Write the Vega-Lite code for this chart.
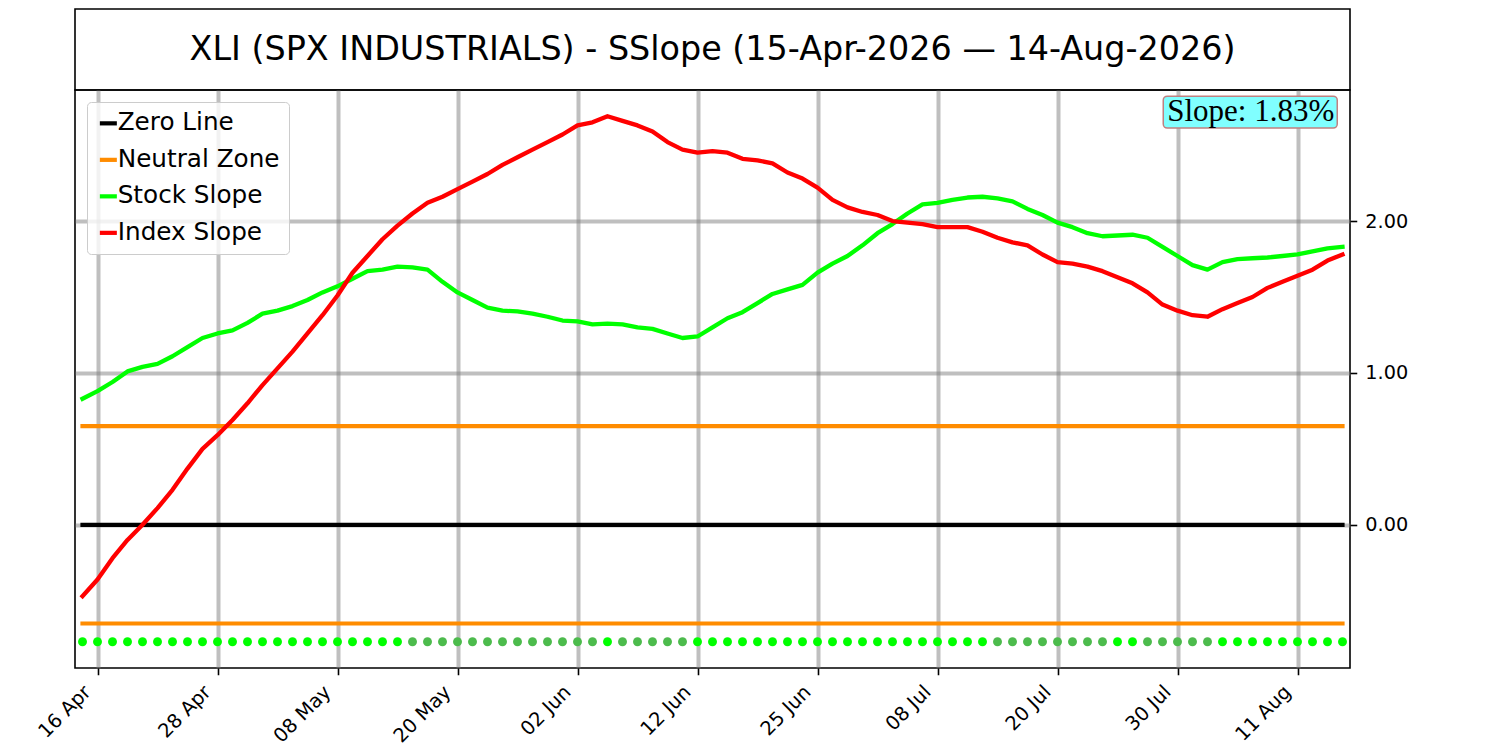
{
  "$schema": "https://vega.github.io/schema/vega-lite/v6.json",
  "description": "XLI sector slope vs index slope, trading-day axis.",
  "background": "white",
  "padding": {"left": 33, "top": 8, "right": 10, "bottom": 5},
  "spacing": 0,
  "bounds": "flush",
  "resolve": {
    "scale": {"color": "independent", "fill": "independent"},
    "legend": {"color": "independent", "fill": "independent"}
  },
  "config": {
    "view": {"stroke": "black", "strokeWidth": 1.6},
    "axis": {
      "labelFont": "DejaVu Sans",
      "labelFontSize": 19.3,
      "labelColor": "black",
      "tickColor": "black",
      "tickSize": 6.75,
      "tickWidth": 1.6,
      "domain": false,
      "grid": true,
      "gridColor": "#808080",
      "gridOpacity": 0.5,
      "gridWidth": 4
    }
  },
  "vconcat": [
    {
      "width": 1275,
      "height": 81,
      "data": {"values": [{"t": "XLI (SPX INDUSTRIALS) - SSlope (15-Apr-2026 — 14-Aug-2026)"}]},
      "mark": {"type": "text", "font": "DejaVu Sans", "fontSize": 33.4, "color": "black", "baseline": "middle"},
      "encoding": {
        "x": {"datum": 0.5, "type": "quantitative", "scale": {"domain": [0, 1]}, "axis": null},
        "y": {"datum": 0.5, "type": "quantitative", "scale": {"domain": [0, 1]}, "axis": null},
        "text": {"field": "t", "type": "nominal"}
      }
    },
    {
      "width": 1275,
      "height": 578,
      "data": {
        "values": [
          {"i": 0, "date": "15 Apr", "stock": 0.83, "index": -0.47, "trend": "up"},
          {"i": 1, "date": "16 Apr", "stock": 0.88, "index": -0.36, "trend": "up"},
          {"i": 2, "date": "17 Apr", "stock": 0.94, "index": -0.22, "trend": "up"},
          {"i": 3, "date": "20 Apr", "stock": 1.01, "index": -0.10, "trend": "up"},
          {"i": 4, "date": "21 Apr", "stock": 1.04, "index": 0.00, "trend": "up"},
          {"i": 5, "date": "22 Apr", "stock": 1.06, "index": 0.11, "trend": "up"},
          {"i": 6, "date": "23 Apr", "stock": 1.11, "index": 0.23, "trend": "up"},
          {"i": 7, "date": "24 Apr", "stock": 1.17, "index": 0.37, "trend": "up"},
          {"i": 8, "date": "27 Apr", "stock": 1.23, "index": 0.50, "trend": "up"},
          {"i": 9, "date": "28 Apr", "stock": 1.26, "index": 0.59, "trend": "up"},
          {"i": 10, "date": "29 Apr", "stock": 1.28, "index": 0.69, "trend": "up"},
          {"i": 11, "date": "30 Apr", "stock": 1.33, "index": 0.80, "trend": "up"},
          {"i": 12, "date": "01 May", "stock": 1.39, "index": 0.92, "trend": "up"},
          {"i": 13, "date": "04 May", "stock": 1.41, "index": 1.03, "trend": "up"},
          {"i": 14, "date": "05 May", "stock": 1.44, "index": 1.14, "trend": "up"},
          {"i": 15, "date": "06 May", "stock": 1.48, "index": 1.26, "trend": "up"},
          {"i": 16, "date": "07 May", "stock": 1.53, "index": 1.38, "trend": "up"},
          {"i": 17, "date": "08 May", "stock": 1.57, "index": 1.51, "trend": "up"},
          {"i": 18, "date": "11 May", "stock": 1.62, "index": 1.66, "trend": "up"},
          {"i": 19, "date": "12 May", "stock": 1.67, "index": 1.77, "trend": "up"},
          {"i": 20, "date": "13 May", "stock": 1.68, "index": 1.88, "trend": "up"},
          {"i": 21, "date": "14 May", "stock": 1.70, "index": 1.97, "trend": "up"},
          {"i": 22, "date": "15 May", "stock": 1.695, "index": 2.05, "trend": "down"},
          {"i": 23, "date": "18 May", "stock": 1.68, "index": 2.12, "trend": "down"},
          {"i": 24, "date": "19 May", "stock": 1.60, "index": 2.16, "trend": "down"},
          {"i": 25, "date": "20 May", "stock": 1.53, "index": 2.21, "trend": "down"},
          {"i": 26, "date": "21 May", "stock": 1.48, "index": 2.26, "trend": "down"},
          {"i": 27, "date": "22 May", "stock": 1.43, "index": 2.31, "trend": "down"},
          {"i": 28, "date": "26 May", "stock": 1.41, "index": 2.37, "trend": "down"},
          {"i": 29, "date": "27 May", "stock": 1.405, "index": 2.42, "trend": "down"},
          {"i": 30, "date": "28 May", "stock": 1.39, "index": 2.47, "trend": "down"},
          {"i": 31, "date": "29 May", "stock": 1.37, "index": 2.52, "trend": "down"},
          {"i": 32, "date": "01 Jun", "stock": 1.345, "index": 2.57, "trend": "down"},
          {"i": 33, "date": "02 Jun", "stock": 1.34, "index": 2.63, "trend": "down"},
          {"i": 34, "date": "03 Jun", "stock": 1.32, "index": 2.65, "trend": "down"},
          {"i": 35, "date": "04 Jun", "stock": 1.325, "index": 2.69, "trend": "up"},
          {"i": 36, "date": "05 Jun", "stock": 1.32, "index": 2.66, "trend": "down"},
          {"i": 37, "date": "08 Jun", "stock": 1.30, "index": 2.63, "trend": "down"},
          {"i": 38, "date": "09 Jun", "stock": 1.29, "index": 2.59, "trend": "down"},
          {"i": 39, "date": "10 Jun", "stock": 1.26, "index": 2.52, "trend": "down"},
          {"i": 40, "date": "11 Jun", "stock": 1.23, "index": 2.47, "trend": "down"},
          {"i": 41, "date": "12 Jun", "stock": 1.24, "index": 2.45, "trend": "up"},
          {"i": 42, "date": "15 Jun", "stock": 1.30, "index": 2.46, "trend": "up"},
          {"i": 43, "date": "16 Jun", "stock": 1.36, "index": 2.45, "trend": "up"},
          {"i": 44, "date": "17 Jun", "stock": 1.40, "index": 2.41, "trend": "up"},
          {"i": 45, "date": "18 Jun", "stock": 1.46, "index": 2.40, "trend": "up"},
          {"i": 46, "date": "22 Jun", "stock": 1.52, "index": 2.38, "trend": "up"},
          {"i": 47, "date": "23 Jun", "stock": 1.55, "index": 2.32, "trend": "up"},
          {"i": 48, "date": "24 Jun", "stock": 1.58, "index": 2.28, "trend": "up"},
          {"i": 49, "date": "25 Jun", "stock": 1.66, "index": 2.22, "trend": "up"},
          {"i": 50, "date": "26 Jun", "stock": 1.72, "index": 2.14, "trend": "up"},
          {"i": 51, "date": "29 Jun", "stock": 1.77, "index": 2.09, "trend": "up"},
          {"i": 52, "date": "30 Jun", "stock": 1.84, "index": 2.06, "trend": "up"},
          {"i": 53, "date": "01 Jul", "stock": 1.92, "index": 2.04, "trend": "up"},
          {"i": 54, "date": "02 Jul", "stock": 1.98, "index": 2.00, "trend": "up"},
          {"i": 55, "date": "06 Jul", "stock": 2.05, "index": 1.99, "trend": "up"},
          {"i": 56, "date": "07 Jul", "stock": 2.11, "index": 1.98, "trend": "up"},
          {"i": 57, "date": "08 Jul", "stock": 2.12, "index": 1.96, "trend": "up"},
          {"i": 58, "date": "09 Jul", "stock": 2.14, "index": 1.96, "trend": "up"},
          {"i": 59, "date": "10 Jul", "stock": 2.155, "index": 1.96, "trend": "up"},
          {"i": 60, "date": "13 Jul", "stock": 2.16, "index": 1.93, "trend": "up"},
          {"i": 61, "date": "14 Jul", "stock": 2.15, "index": 1.89, "trend": "down"},
          {"i": 62, "date": "15 Jul", "stock": 2.13, "index": 1.86, "trend": "down"},
          {"i": 63, "date": "16 Jul", "stock": 2.08, "index": 1.84, "trend": "down"},
          {"i": 64, "date": "17 Jul", "stock": 2.04, "index": 1.78, "trend": "down"},
          {"i": 65, "date": "20 Jul", "stock": 1.99, "index": 1.73, "trend": "down"},
          {"i": 66, "date": "21 Jul", "stock": 1.96, "index": 1.72, "trend": "down"},
          {"i": 67, "date": "22 Jul", "stock": 1.92, "index": 1.70, "trend": "down"},
          {"i": 68, "date": "23 Jul", "stock": 1.90, "index": 1.67, "trend": "down"},
          {"i": 69, "date": "24 Jul", "stock": 1.905, "index": 1.63, "trend": "up"},
          {"i": 70, "date": "27 Jul", "stock": 1.91, "index": 1.59, "trend": "up"},
          {"i": 71, "date": "28 Jul", "stock": 1.89, "index": 1.53, "trend": "down"},
          {"i": 72, "date": "29 Jul", "stock": 1.83, "index": 1.45, "trend": "down"},
          {"i": 73, "date": "30 Jul", "stock": 1.77, "index": 1.41, "trend": "down"},
          {"i": 74, "date": "31 Jul", "stock": 1.71, "index": 1.38, "trend": "down"},
          {"i": 75, "date": "03 Aug", "stock": 1.68, "index": 1.37, "trend": "down"},
          {"i": 76, "date": "04 Aug", "stock": 1.73, "index": 1.42, "trend": "up"},
          {"i": 77, "date": "05 Aug", "stock": 1.75, "index": 1.46, "trend": "up"},
          {"i": 78, "date": "06 Aug", "stock": 1.755, "index": 1.50, "trend": "up"},
          {"i": 79, "date": "07 Aug", "stock": 1.76, "index": 1.56, "trend": "up"},
          {"i": 80, "date": "10 Aug", "stock": 1.77, "index": 1.60, "trend": "up"},
          {"i": 81, "date": "11 Aug", "stock": 1.78, "index": 1.64, "trend": "up"},
          {"i": 82, "date": "12 Aug", "stock": 1.80, "index": 1.68, "trend": "up"},
          {"i": 83, "date": "13 Aug", "stock": 1.82, "index": 1.74, "trend": "up"},
          {"i": 84, "date": "14 Aug", "stock": 1.83, "index": 1.78, "trend": "up"}
        ]
      },
      "encoding": {
        "x": {
          "type": "quantitative",
          "title": null,
          "scale": {"domain": [-0.5, 84.5], "nice": false, "zero": false},
          "axis": {
            "values": [1, 9, 17, 25, 33, 41, 49, 57, 65, 73, 81],
            "labelExpr": "{'1': '16 Apr', '9': '28 Apr', '17': '08 May', '25': '20 May', '33': '02 Jun', '41': '12 Jun', '49': '25 Jun', '57': '08 Jul', '65': '20 Jul', '73': '30 Jul', '81': '11 Aug'}[datum.value]",
            "labelFontSize": 19.5,
            "labelAngle": -45,
            "labelAlign": "right",
            "labelBaseline": "alphabetic",
            "labelOffset": -6,
            "labelPadding": 18
          }
        },
        "y": {
          "type": "quantitative",
          "title": null,
          "scale": {"domain": [-0.943, 2.863], "nice": false, "zero": false},
          "axis": {"orient": "right", "values": [0, 1, 2], "format": ".2f", "labelPadding": 8}
        }
      },
      "layer": [
        {
          "data": {
            "values": [
              {"series": "zero", "level": 0},
              {"series": "neutral", "level": 0.65},
              {"series": "neutral", "level": -0.65}
            ]
          },
          "mark": {"type": "rule", "strokeWidth": 4.2, "strokeCap": "square"},
          "encoding": {
            "x": {"datum": 0},
            "x2": {"datum": 84},
            "y": {"field": "level"},
            "color": {
              "field": "series",
              "type": "nominal",
              "scale": {
                "domain": ["zero", "neutral", "stock", "index"],
                "range": ["black", "#ff8c00", "#00ff00", "#ff0000"]
              },
              "legend": {
                "title": null,
                "orient": "top-left",
                "offset": 12,
                "symbolType": "stroke",
                "symbolSize": 289,
                "symbolStrokeWidth": 4.2,
                "labelFont": "DejaVu Sans",
                "labelFontSize": 24.7,
                "labelColor": "black",
                "labelLimit": 400,
                "labelOffset": -3,
                "rowPadding": 10.5,
                "padding": 9,
                "fillColor": "rgba(255,255,255,0.8)",
                "strokeColor": "#cccccc",
                "cornerRadius": 4,
                "labelExpr": "{'zero': 'Zero Line', 'neutral': 'Neutral Zone', 'stock': 'Stock Slope', 'index': 'Index Slope'}[datum.label]"
              }
            }
          }
        },
        {
          "mark": {"type": "line", "strokeWidth": 4.3, "strokeCap": "square", "strokeJoin": "round"},
          "encoding": {
            "x": {"field": "i"},
            "y": {"field": "stock"},
            "color": {"datum": "stock"}
          }
        },
        {
          "mark": {"type": "line", "strokeWidth": 4.3, "strokeCap": "square", "strokeJoin": "round"},
          "encoding": {
            "x": {"field": "i"},
            "y": {"field": "index"},
            "color": {"datum": "index"}
          }
        },
        {
          "mark": {"type": "circle", "size": 80, "opacity": 1},
          "encoding": {
            "x": {"field": "i"},
            "y": {"datum": -0.77},
            "fill": {
              "field": "trend",
              "type": "nominal",
              "scale": {"domain": ["up", "down"], "range": ["#00ff00", "#4cbb4c"]},
              "legend": null
            }
          }
        },
        {
          "data": {"values": [{"label": "Slope: 1.83%"}]},
          "mark": {"type": "rect", "fill": "#80ffff", "stroke": "#c08080", "strokeWidth": 1.5, "cornerRadius": 4},
          "encoding": {
            "x": {"datum": 72.05},
            "x2": {"datum": 83.65},
            "y": {"datum": 2.822},
            "y2": {"datum": 2.612}
          }
        },
        {
          "data": {"values": [{"label": "Slope: 1.83%"}]},
          "mark": {"type": "text", "font": "Liberation Serif", "fontSize": 31, "align": "right", "baseline": "middle", "color": "black"},
          "encoding": {
            "x": {"datum": 83.45},
            "y": {"datum": 2.717},
            "text": {"field": "label", "type": "nominal"}
          }
        }
      ]
    }
  ]
}
